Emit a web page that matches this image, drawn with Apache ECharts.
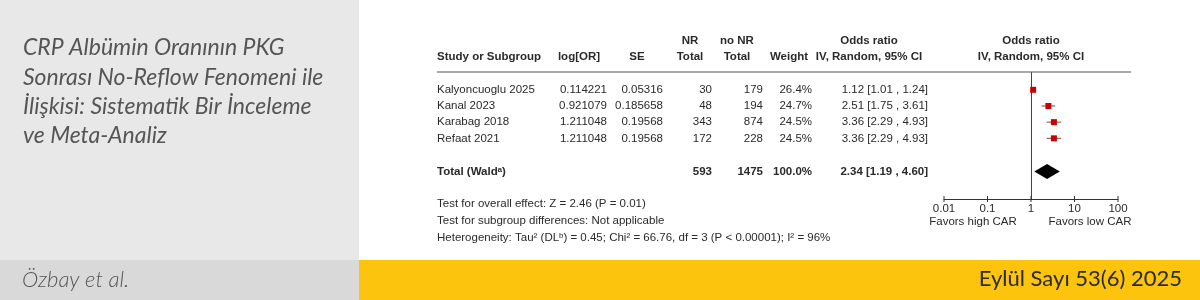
<!DOCTYPE html>
<html><head><meta charset="utf-8">
<script src="https://cdn.jsdelivr.net/npm/echarts@6/dist/echarts.min.js"></script>
<style>html,body{margin:0;padding:0;background:#fff}#c{width:1200px;height:300px}</style>
</head><body><div id="c"></div>
<script>
// ---------- data ----------
const titleLines = ['CRP Albümin Oranının PKG', 'Sonrası No-Reflow Fenomeni ile', 'İlişkisi: Sistematik Bir İnceleme', 've Meta-Analiz'];
const authorText = 'Özbay et al.';
const issueText = 'Eylül Sayı 53(6) 2025';

const headerRow1 = ['', '', '', 'NR', 'no NR', '', 'Odds ratio', 'Odds ratio'];
const headerRow2 = ['Study or Subgroup', 'log[OR]', 'SE', 'Total', 'Total', 'Weight', 'IV, Random, 95% CI', 'IV, Random, 95% CI'];

const studies = ['Kalyoncuoglu 2025', 'Kanal 2023', 'Karabag 2018', 'Refaat 2021'];
const logOR = ['0.114221', '0.921079', '1.211048', '1.211048'];
const seVals = ['0.05316', '0.185658', '0.19568', '0.19568'];
const nrTotal = [30, 48, 343, 172];
const noNrTotal = [179, 194, 874, 228];
const weights = [26.4, 24.7, 24.5, 24.5];
const orEst = [1.12, 2.51, 3.36, 3.36];
const orLow = [1.01, 1.75, 2.29, 2.29];
const orHigh = [1.24, 3.61, 4.93, 4.93];

const totalLabel = 'Total (Waldᵃ)';
const totalNr = 593;
const totalNoNr = 1475;
const totalWeight = 100.0;
const totalEst = 2.34, totalLow = 1.19, totalHigh = 4.60;

const footLines = [
  'Test for overall effect: Z = 2.46 (P = 0.01)',
  'Test for subgroup differences: Not applicable',
  'Heterogeneity: Tau² (DLᵇ) = 0.45; Chi² = 66.76, df = 3 (P < 0.00001); I² = 96%'
];
const axisTicks = [0.01, 0.1, 1, 10, 100];
const favorLeft = 'Favors high CAR';
const favorRight = 'Favors low CAR';

// row positions on the plot's y scale
const rowPos = [0, 1, 2, 3];
const totalPos = 5.05;
const yMin = -1.1, yMax = 6.75;

// ---------- chart ----------
const chart = echarts.init(document.getElementById('c'), null, {renderer: 'canvas'});
const FONT = 'Liberation Sans, Arial, sans-serif';
const TXT = '#2a2a2a';
const FS = 11.5;

const studyData = studies.map((s, i) => [orEst[i], rowPos[i], orLow[i], orHigh[i], weights[i]]);

chart.setOption({
  animation: false,
  grid: {left: 944, right: 82, top: 72, height: 127},
  xAxis: {
    type: 'log', logBase: 10, min: axisTicks[0], max: axisTicks[axisTicks.length - 1],
    position: 'bottom',
    splitLine: {show: false},
    axisLine: {show: true, onZero: false, lineStyle: {color: '#333', width: 1}},
    axisTick: {show: false},
    minorTick: {show: false},
    axisLabel: {show: true, margin: 4, color: TXT, fontSize: FS, fontFamily: FONT,
      formatter: v => String(+(+v).toPrecision(3))}
  },
  yAxis: {type: 'value', inverse: true, min: yMin, max: yMax, show: false, splitLine: {show: false},
    axisLine: {onZero: false}},
  series: [
    {
      type: 'custom',
      data: studyData,
      z: 5,
      renderItem: (params, api) => {
        const c = api.coord([api.value(0), api.value(1)]);
        const lo = api.coord([api.value(2), api.value(1)]);
        const hi = api.coord([api.value(3), api.value(1)]);
        const s = 6;
        return {type: 'group', children: [
          {type: 'line', shape: {x1: lo[0], y1: c[1], x2: hi[0], y2: c[1]}, style: {stroke: '#555', lineWidth: 1}},
          {type: 'rect', shape: {x: c[0] - s / 2, y: c[1] - s / 2, width: s, height: s}, style: {fill: '#cc0000'}}
        ]};
      },
      markLine: {
        silent: true, symbol: 'none', label: {show: false},
        lineStyle: {color: '#444', width: 1, type: 'solid'},
        data: [{xAxis: 1}]
      }
    },
    {
      type: 'custom',
      data: [[totalEst, totalPos, totalLow, totalHigh]],
      z: 5,
      renderItem: (params, api) => {
        const c = api.coord([api.value(0), api.value(1)]);
        const lo = api.coord([api.value(2), api.value(1)]);
        const hi = api.coord([api.value(3), api.value(1)]);
        const h = 7.5;
        return {type: 'polygon', shape: {points: [[lo[0], c[1]], [c[0], c[1] - h], [hi[0], c[1]], [c[0], c[1] + h]]},
          style: {fill: '#000'}};
      }
    },
    {
      // axis ticks crossing the axis line
      type: 'custom',
      data: axisTicks.map(t => [t, yMax]),
      z: 5,
      renderItem: (params, api) => {
        const p = api.coord([api.value(0), api.value(1)]);
        return {type: 'line', shape: {x1: p[0], y1: p[1] - 3, x2: p[0], y2: p[1] + 3}, style: {stroke: '#333', lineWidth: 1}};
      }
    }
  ]
});

// ---------- table & decoration ----------
const yOf = v => chart.convertToPixel({yAxisIndex: 0}, v);
const xOf = v => chart.convertToPixel({xAxisIndex: 0}, v);
const xOne = xOf(1);
const topY = yOf(yMin);

const colHeadX = [437, 579, 637, 690, 737, 789, 869, xOne];
const colHeadAlign = ['left', 'center', 'center', 'center', 'center', 'center', 'center', 'center'];
const colBodyX = [437, 607, 663, 712, 763, 812, 928];
const colBodyAlign = ['left', 'right', 'right', 'right', 'right', 'right', 'right'];

const g = [];
g.push({type: 'rect', z: 0, shape: {x: 0, y: 0, width: 359, height: 260}, style: {fill: '#e8e8e8'}});
g.push({type: 'rect', z: 0, shape: {x: 0, y: 260, width: 359, height: 40}, style: {fill: '#d9d9d9'}});
g.push({type: 'rect', z: 0, shape: {x: 359, y: 260, width: 841, height: 40}, style: {fill: '#fcc40c'}});

titleLines.forEach((t, i) => {
  g.push({type: 'text', z: 10, x: 23, y: 48 + i * 29.3, style: {text: t, fill: '#555', fontSize: 23, fontStyle: 'italic',
    fontFamily: 'Lato, sans-serif', verticalAlign: 'middle', align: 'left'}});
});
g.push({type: 'text', z: 10, x: 22, y: 280, style: {text: authorText, fill: '#555', fontSize: 22, fontStyle: 'italic', fontWeight: 300,
  fontFamily: 'Lato, sans-serif', verticalAlign: 'middle', align: 'left'}});
g.push({type: 'text', z: 10, x: 1182, y: 279, style: {text: issueText, fill: '#2a2a2a', fontSize: 22, fontWeight: 'normal',
  fontFamily: 'Lato, sans-serif', verticalAlign: 'middle', align: 'right'}});

function txt(t, x, y, align, bold) {
  g.push({type: 'text', z: 10, x: x, y: y, style: {text: t, fill: TXT, fontSize: FS, fontFamily: FONT,
    fontWeight: bold ? 'bold' : 'normal', align: align, verticalAlign: 'middle'}});
}
headerRow1.forEach((t, i) => { if (t) txt(t, colHeadX[i], 40.5, colHeadAlign[i], true); });
headerRow2.forEach((t, i) => txt(t, colHeadX[i], 57, colHeadAlign[i], true));

g.push({type: 'line', z: 10, shape: {x1: 437, y1: topY, x2: 1131, y2: topY}, style: {stroke: '#555', lineWidth: 1.2}});

const fmtCI = (e, l, h) => e.toFixed(2) + ' [' + l.toFixed(2) + ' , ' + h.toFixed(2) + ']';
studies.forEach((s, i) => {
  const y = yOf(rowPos[i]);
  const cells = [s, logOR[i], seVals[i], String(nrTotal[i]), String(noNrTotal[i]), weights[i].toFixed(1) + '%',
    fmtCI(orEst[i], orLow[i], orHigh[i])];
  cells.forEach((c, j) => txt(c, colBodyX[j], y, colBodyAlign[j], false));
});
const ty = yOf(totalPos);
const totalCells = [totalLabel, '', '', String(totalNr), String(totalNoNr), totalWeight.toFixed(1) + '%', fmtCI(totalEst, totalLow, totalHigh)];
totalCells.forEach((c, j) => { if (c) txt(c, colBodyX[j], ty, colBodyAlign[j], true); });

footLines.forEach((t, i) => txt(t, 437, 204 + i * 17, 'left', false));

txt(favorLeft, xOne - 58, 222, 'center', false);
txt(favorRight, xOne + 59, 222, 'center', false);

chart.setOption({graphic: {elements: g}});
</script>
</body></html>
